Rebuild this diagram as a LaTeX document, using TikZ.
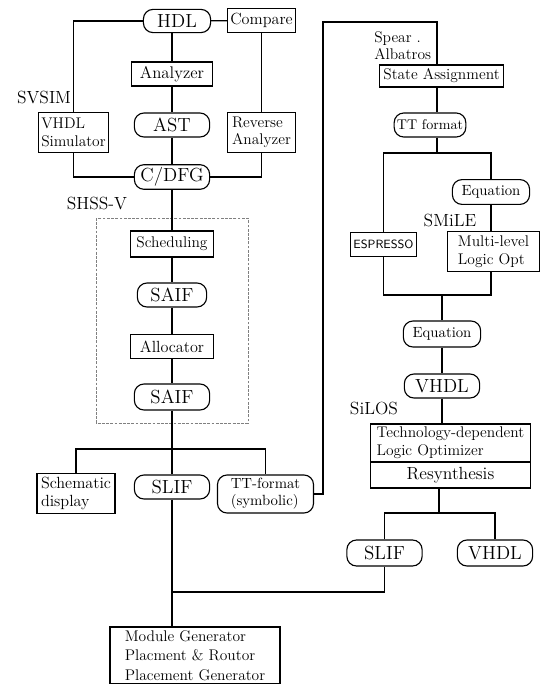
\documentclass[tikz,border=0pt]{standalone}
\usepackage{tikz}
\usetikzlibrary{positioning}

\begin{document}
\begin{tikzpicture}[
    x=0.025cm, y=-0.025cm,
    line width=0.8pt,
    box/.style={rectangle, draw, inner sep=2pt, align=left, font=\fontsize{11.5}{13}\selectfont},
    term/.style={rectangle, draw, rounded corners=2.4mm, inner sep=2pt, align=left, minimum width=1.88cm, minimum height=0.6cm, font=\fontsize{13.5}{15}\selectfont},
    tag/.style={font=\fontsize{12.5}{14}\selectfont},
    group/.style={draw, gray, line width=0.5pt, dash pattern=on 2pt off 1pt}
]
\useasboundingbox (0,0) rectangle (545,684);

\node[term, minimum width=1.68cm, minimum height=0.58cm] (hdl) at (177,21) {HDL};
\node[box, minimum width=1.68cm, minimum height=0.62cm] (compare) at (261.5,20.5) {Compare};
\node[box, minimum width=2.03cm, minimum height=0.6cm, font=\fontsize{12}{13}\selectfont] (analyzer) at (172,74) {Analyzer};
\node[term] (ast) at (172,125) {AST};
\node[box, minimum width=1.68cm, minimum height=0.98cm, font=\fontsize{11}{12.5}\selectfont] (vsim) at (73.5,132.5) {VHDL\\Simulator};
\node[box, minimum width=1.68cm, minimum height=0.98cm, font=\fontsize{11}{12.5}\selectfont] (revan) at (261.5,132.5) {Reverse\\Analyzer};
\node[term] (cdfg) at (172,177) {C/DFG};
\node[tag] (svsim) at (44,97) {SVSIM};
\node[tag] (shssv) at (97,203) {SHSS-V};

\node[box, minimum width=2.08cm, minimum height=0.65cm, font=\fontsize{11}{12}\selectfont] (sched) at (172,244) {Scheduling};
\node[term, minimum width=1.73cm] (saifa) at (172,295) {SAIF};
\node[box, minimum width=2.08cm, minimum height=0.62cm] (alloc) at (172,346.5) {Allocator};
\node[term, minimum height=0.65cm] (saifb) at (172,397) {SAIF};
\draw[group] (96,218) rectangle (248,423);

\coordinate (fork) at (172,449);
\node[box, minimum width=1.95cm, minimum height=0.98cm] (schem) at (76,493.5) {Schematic\\display};
\node[term] (slif) at (172,487) {SLIF};
\node[term, minimum width=2.4cm, minimum height=0.95cm, font=\fontsize{10.5}{12}\selectfont] (ttsym) at (265.5,494) {TT-format\\(symbolic)};
\coordinate (join) at (172,592);
\node[box, line width=1.4pt, minimum width=4.25cm, minimum height=1.38cm, font=\fontsize{11}{14}\selectfont] (modgen) at (195,655.5) {Module Generator\\Placment \& Routor\\Placement Generator};

\coordinate (loop) at (323,22);
\node[anchor=north west, align=left, font=\fontsize{11}{12}\selectfont] (spear) at (369,26) {Spear .\\Albatros};
\node[box, minimum width=3.08cm, minimum height=0.55cm, font=\fontsize{11}{12}\selectfont] (stassign) at (441.5,76) {State Assignment};
\node[term, minimum width=1.6cm, font=\fontsize{10}{11}\selectfont] (ttfmt) at (430,125) {TT format};
\coordinate (split) at (437,153);
\node[term, minimum width=1.93cm, minimum height=0.62cm, font=\fontsize{10.5}{12}\selectfont] (eqa) at (491,192) {Equation};
\node[tag] (smile) at (450,220) {SMiLE};
\node[box, minimum width=1.58cm, minimum height=0.62cm, font=\sffamily\fontsize{8.5}{10}\selectfont] (espresso) at (383.5,244.5) {ESPRESSO};
\node[box, minimum width=2.28cm, minimum height=0.98cm, font=\fontsize{11}{12.5}\selectfont] (mlopt) at (493.5,251.5) {Multi-level\\Logic Opt};
\coordinate (merge) at (442,295);
\node[term, minimum width=1.93cm, minimum height=0.65cm, font=\fontsize{10.5}{12}\selectfont] (eqb) at (442,334) {Equation};
\node[term] (vhdla) at (442,386) {VHDL};
\node[tag] (silos) at (374,408) {SiLOS};
\node[box, minimum width=3.98cm, minimum height=0.95cm, font=\fontsize{11}{12.5}\selectfont] (techopt) at (450.5,443) {Technology-dependent\\Logic Optimizer};
\node[box, minimum width=3.98cm, minimum height=0.65cm, font=\fontsize{12.5}{14}\selectfont] (resyn) at (450.5,475) {Resynthesis};
\coordinate (fanout) at (439,513);
\node[term, minimum height=0.65cm] (slifb) at (384.5,553) {SLIF};
\node[term, minimum height=0.65cm] (vhdlb) at (495,553) {VHDL};

\draw (hdl) -- (compare);
\draw (hdl.west) -| (vsim.north);
\draw (analyzer.north) -- (analyzer.north |- hdl.south);
\draw (analyzer) -- (ast);
\draw (ast) -- (cdfg);
\draw (compare) -- (revan);
\draw (vsim.south) |- (cdfg.west);
\draw (revan.south) |- (cdfg.east);
\draw (cdfg) -- (sched);
\draw (sched) -- (saifa);
\draw (saifa) -- (alloc);
\draw (alloc) -- (saifb);
\draw (saifb) -- (fork);
\draw (schem.north) |- (fork) -| (ttsym.north);
\draw (fork) -- (slif);
\draw (slif.south) -- (join) -- (join |- modgen.north);
\draw (slifb.south) |- (join);

\draw (ttsym.east) -| (loop) -| (split |- stassign.north);
\draw (split |- stassign.south) -- (split |- ttfmt.north);
\draw (split |- ttfmt.south) -- (split);
\draw (espresso.north) |- (split) -| (eqa.north);
\draw (eqa.south) -- (eqa.south |- mlopt.north);
\draw (espresso.south) |- (merge) -| (eqa.south |- mlopt.south);
\draw (merge) -- (eqb);
\draw (eqb) -- (vhdla);
\draw (vhdla.south) -- (vhdla.south |- techopt.north);
\draw (fanout |- resyn.south) -- (fanout);
\draw (slifb.north) |- (fanout) -| (vhdlb.north);

\end{tikzpicture}
\end{document}
